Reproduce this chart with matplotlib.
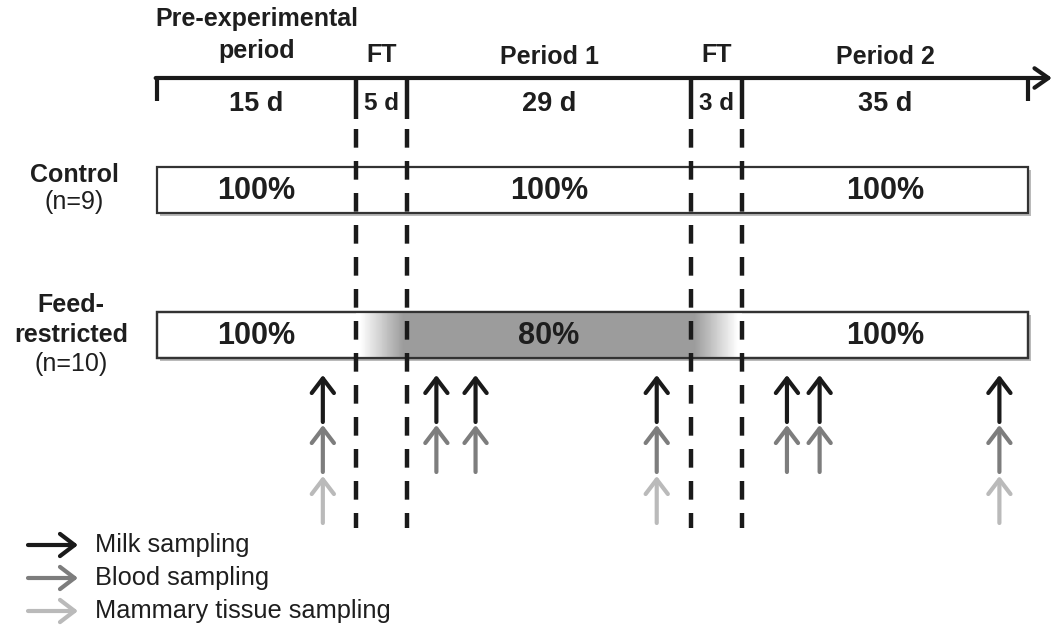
import numpy as np
import matplotlib
matplotlib.use("Agg")
import matplotlib.pyplot as plt
from matplotlib.patches import Rectangle
import matplotlib.patheffects as pe

plt.rcParams['font.family'] = ['Liberation Sans', 'DejaVu Sans']

# ---------------- data ----------------
phase_titles = ["Pre-experimental\nperiod", "FT", "Period 1", "FT", "Period 2"]
phase_lengths = [15, 5, 29, 3, 35]                      # days
phase_length_labels = ["15 d", "5 d", "29 d", "3 d", "35 d"]
control_intake = [100, None, 100, None, 100]            # % of requirements
restricted_intake = [100, None, 80, None, 100]
control_label = ["Control", "(n=9)"]
restricted_label = ["Feed-", "restricted", "(n=10)"]
milk_days = [12.5, 23, 27, 45.5, 57.5, 61.5, 83.5]
blood_days = [12.5, 23, 27, 45.5, 57.5, 61.5, 83.5]
mammary_days = [12.5, 45.5, 83.5]
legend_labels = ["Milk sampling", "Blood sampling", "Mammary tissue sampling"]

# ---------------- layout (schematic widths of phases, px) ----------------
phase_display_width = [199, 51, 284, 51, 286]
x0_px = 157
W, H = 1054, 627

edges_days = np.concatenate([[0], np.cumsum(phase_lengths)]).astype(float)
edges_px = x0_px + np.concatenate([[0], np.cumsum(phase_display_width)]).astype(float)
sl = (edges_px[1] - edges_px[0]) / (edges_days[1] - edges_days[0])
sr = (edges_px[-1] - edges_px[-2]) / (edges_days[-1] - edges_days[-2])


def fwd(d):
    d = np.asarray(d, float)
    out = np.interp(d, edges_days, edges_px)
    out = np.where(d < edges_days[0], edges_px[0] + (d - edges_days[0]) * sl, out)
    out = np.where(d > edges_days[-1], edges_px[-1] + (d - edges_days[-1]) * sr, out)
    return out


def inv(p):
    p = np.asarray(p, float)
    out = np.interp(p, edges_px, edges_days)
    out = np.where(p < edges_px[0], edges_days[0] + (p - edges_px[0]) / sl, out)
    out = np.where(p > edges_px[-1], edges_days[-1] + (p - edges_px[-1]) / sr, out)
    return out


fig = plt.figure(figsize=(W / 100, H / 100), dpi=100)
ax = fig.add_axes([0, 0, 1, 1])
ax.set_xscale('function', functions=(fwd, inv))
ax.set_xlim(float(inv(0)), float(inv(W)))
ax.set_ylim(H, 0)
ax.axis('off')

TXT = '#1e1e1e'
DARK = '#1a1a1a'
centers = edges_days[:-1] + np.array(phase_lengths) / 2.0
start, end = edges_days[0], edges_days[-1]
bounds = edges_days[1:-1]

# ---------------- timeline ----------------
y_line = 78
ax.annotate('', xy=(float(inv(1052)), y_line), xytext=(start - 0.1, y_line),
            arrowprops=dict(arrowstyle='->,head_length=1.0,head_width=0.7',
                            lw=3.0, color=DARK, shrinkA=0, shrinkB=0),
            annotation_clip=False, zorder=5)
for xd in [start, end]:
    ax.plot([xd, xd], [y_line, 101], color=DARK, lw=3.0, solid_capstyle='butt', zorder=5)
for xd in bounds:
    ax.plot([xd, xd], [y_line, 119], color=DARK, lw=3.2, solid_capstyle='butt', zorder=5)
    ax.plot([xd, xd], [129, 528], color=DARK, lw=3.2, linestyle=(0, (4.2, 3.0)),
            dash_capstyle='butt', zorder=6)

# titles and durations
title_y = [35, 55, 57, 55, 57]
for c, t, ty in zip(centers, phase_titles, title_y):
    ax.text(c, ty, t, ha='center', va='center', fontsize=18, fontweight='bold',
            color=TXT, linespacing=1.42)
for c, t in zip(centers, phase_length_labels):
    fs = 19.5 if len(t) > 3 else 17.5
    ax.text(c, 104, t, ha='center', va='center', fontsize=fs, fontweight='bold', color=TXT)

# ---------------- group bars ----------------
shadow = [pe.SimplePatchShadow(offset=(2, -2), shadow_rgbFace='0.55', alpha=0.6), pe.Normal()]
box_h = 46
ctrl_y, restr_y = 167, 312

ax.add_patch(Rectangle((start, ctrl_y), end - start, box_h, facecolor='white',
                       edgecolor='#333333', lw=1.6, zorder=2, path_effects=shadow))
ax.add_patch(Rectangle((start, restr_y), end - start, box_h, facecolor='white',
                       edgecolor='#333333', lw=1.6, zorder=2, path_effects=shadow))

# restricted fill (80 %) with fading transitions during the FT phases
grey = np.array([0.61, 0.61, 0.61])
white = np.array([1.0, 1.0, 1.0])
for i, v in enumerate(restricted_intake):
    if v is not None and v < 100:
        ax.add_patch(Rectangle((edges_days[i], restr_y), phase_lengths[i], box_h,
                               facecolor=grey, edgecolor='none', zorder=3))
        # ramp into and out of the restricted phase
        for (a, b, rev) in [(edges_days[i - 1], edges_days[i], False),
                            (edges_days[i + 1], edges_days[i + 2], True)]:
            n = 60
            xs = np.linspace(a, b, n + 1)
            for k in range(n):
                f = (k + 0.5) / n
                f = 1 - f if rev else f
                f = np.clip((f - 0.08) / 0.85, 0, 1)
                col = white + (grey - white) * f
                ax.add_patch(Rectangle((xs[k], restr_y), xs[k + 1] - xs[k], box_h,
                                       facecolor=col, edgecolor='none', zorder=3))
ax.add_patch(Rectangle((start, restr_y), end - start, box_h, facecolor='none',
                       edgecolor='#333333', lw=1.6, zorder=4))

for c, v in zip(centers, control_intake):
    if v is not None:
        ax.text(c, ctrl_y + box_h / 2 + 1, f"{v}%", ha='center', va='center',
                fontsize=22, fontweight='bold', color=TXT, zorder=7)
for c, v in zip(centers, restricted_intake):
    if v is not None:
        ax.text(c, restr_y + box_h / 2 + 1, f"{v}%", ha='center', va='center',
                fontsize=22, fontweight='bold', color=TXT, zorder=7)

# group labels
for k, (t, yy) in enumerate(zip(control_label, [175, 202])):
    ax.annotate(t, xy=(74, yy), xycoords=('figure pixels', 'data'), ha='center', va='center',
                fontsize=18, fontweight='bold' if k == 0 else 'normal', color=TXT)
for k, (t, yy) in enumerate(zip(restricted_label, [305, 335, 364])):
    ax.annotate(t, xy=(71, yy), xycoords=('figure pixels', 'data'), ha='center', va='center',
                fontsize=18, fontweight='bold' if k < 2 else 'normal', color=TXT)

# ---------------- sampling arrows ----------------
arrow_cols = ['#1a1a1a', '#7d7d7d', '#bababa']
arrow_rows = [(422, 375), (472, 425), (523, 476)]
astyle = '->,head_length=1.05,head_width=0.8'
for days, col, (yb, yt) in zip([milk_days, blood_days, mammary_days], arrow_cols, arrow_rows):
    for d in days:
        ax.annotate('', xy=(d, yt), xytext=(d, yb),
                    arrowprops=dict(arrowstyle=astyle, lw=3.0, color=col,
                                    shrinkA=0, shrinkB=0), zorder=6)

# ---------------- legend ----------------
for lab, col, yy in zip(legend_labels, arrow_cols, [545, 578, 611]):
    ax.annotate('', xy=(78, yy), xycoords=('figure pixels', 'data'),
                xytext=(28, yy), textcoords=('figure pixels', 'data'),
                arrowprops=dict(arrowstyle=astyle, lw=3.0, color=col, shrinkA=0, shrinkB=0))
    ax.annotate(lab, xy=(95, yy), xycoords=('figure pixels', 'data'), ha='left', va='center',
                fontsize=18.3, color=TXT)

fig.savefig('out.png', dpi=100)
